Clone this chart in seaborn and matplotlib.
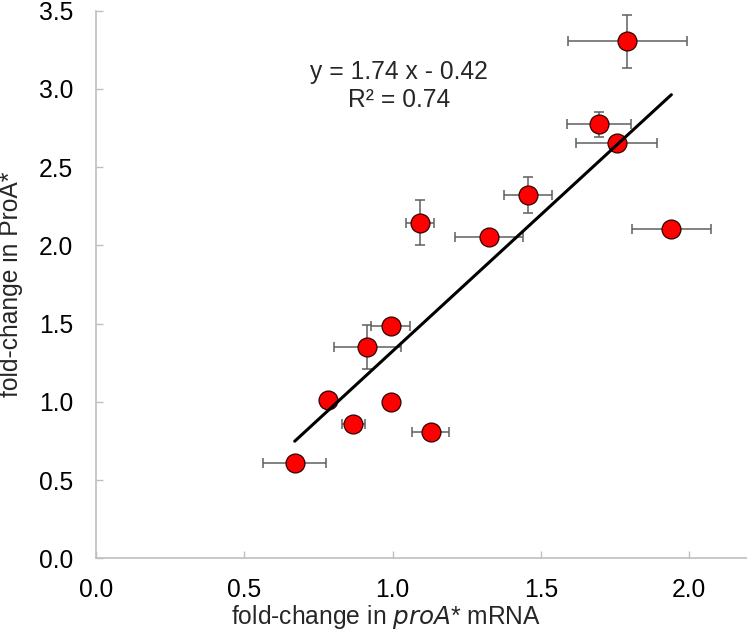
import numpy as np
import pandas as pd
import matplotlib
matplotlib.use("Agg")
import matplotlib.pyplot as plt
import seaborn as sns

# Data
mrna = [1.792, 1.695, 1.755, 1.457, 1.092, 1.324, 1.940, 0.994, 0.915, 0.996, 1.128, 0.781, 0.868, 0.670]
prot = [3.305, 2.773, 2.652, 2.321, 2.144, 2.055, 2.104, 1.486, 1.352, 1.001, 0.807, 1.012, 0.856, 0.607]
mrna_err = [0.200, 0.108, 0.135, 0.081, 0.048, 0.115, 0.132, 0.066, 0.112, 0.0, 0.061, 0.02, 0.040, 0.106]
prot_err = [0.170, 0.080, 0.02, 0.117, 0.144, 0.0, 0.0, 0.02, 0.140, 0.0, 0.0, 0.0, 0.0, 0.0]
x_ticks = [0.0, 0.5, 1.0, 1.5, 2.0]
y_ticks = [0.0, 0.5, 1.0, 1.5, 2.0, 2.5, 3.0, 3.5]
eq_text = "y = 1.74 x - 0.42"
r2_text = "R² = 0.74"

df = pd.DataFrame({"mrna": mrna, "prot": prot, "xerr": mrna_err, "yerr": prot_err})

sns.set_style("white")
plt.rcParams["font.family"] = ["Liberation Sans", "DejaVu Sans"]

FS = 17.7

fig = plt.figure(figsize=(7.47, 6.35), dpi=100)
ax = fig.add_axes([0.1285, 0.1208, 0.8715, 0.8623])

ax.errorbar(df["mrna"], df["prot"], xerr=df["xerr"], yerr=df["yerr"], fmt="none",
            ecolor="#5f5f5f", elinewidth=1.1, capsize=3.6, capthick=1.1, zorder=2)
sns.scatterplot(data=df, x="mrna", y="prot", ax=ax, s=185, color="#ff0000",
                edgecolor="#300000", linewidth=0.9, zorder=3, legend=False)
sns.regplot(data=df, x="mrna", y="prot", ax=ax, scatter=False, ci=None, truncate=True,
            line_kws={"color": "black", "lw": 2.2, "zorder": 4})

ax.set_xlim(0, 2.195)
ax.set_ylim(0, 3.5)
ax.set_xticks(x_ticks)
ax.set_yticks(y_ticks)
ax.set_xticklabels([f"{v:.1f}" for v in x_ticks])
ax.set_yticklabels([f"{v:.1f}" for v in y_ticks])

for side in ["top", "right"]:
    ax.spines[side].set_visible(False)
for side in ["left", "bottom"]:
    ax.spines[side].set_color("#bfbfbf")
    ax.spines[side].set_linewidth(1.2)

ax.tick_params(axis="both", direction="in", length=5, width=1, color="#bfbfbf",
               labelsize=FS, labelcolor="black")
ax.tick_params(axis="y", pad=16.5)
ax.tick_params(axis="x", pad=14)
ax.tick_params(axis="y", left=True)
ax.tick_params(axis="x", bottom=True)

ax.set_xlabel("fold-change in $\\mathit{proA}$* mRNA", fontsize=FS)
ax.set_ylabel("fold-change in ProA*", fontsize=FS)
ax.xaxis.set_label_coords(0.445, -0.082)
ax.yaxis.set_label_coords(-0.112, 0.5)

ax.text(1.0216, 3.107, eq_text, ha="center", va="center", fontsize=FS)
ax.text(1.0216, 2.928, r2_text, ha="center", va="center", fontsize=FS)

fig.savefig("out.png", dpi=100)
